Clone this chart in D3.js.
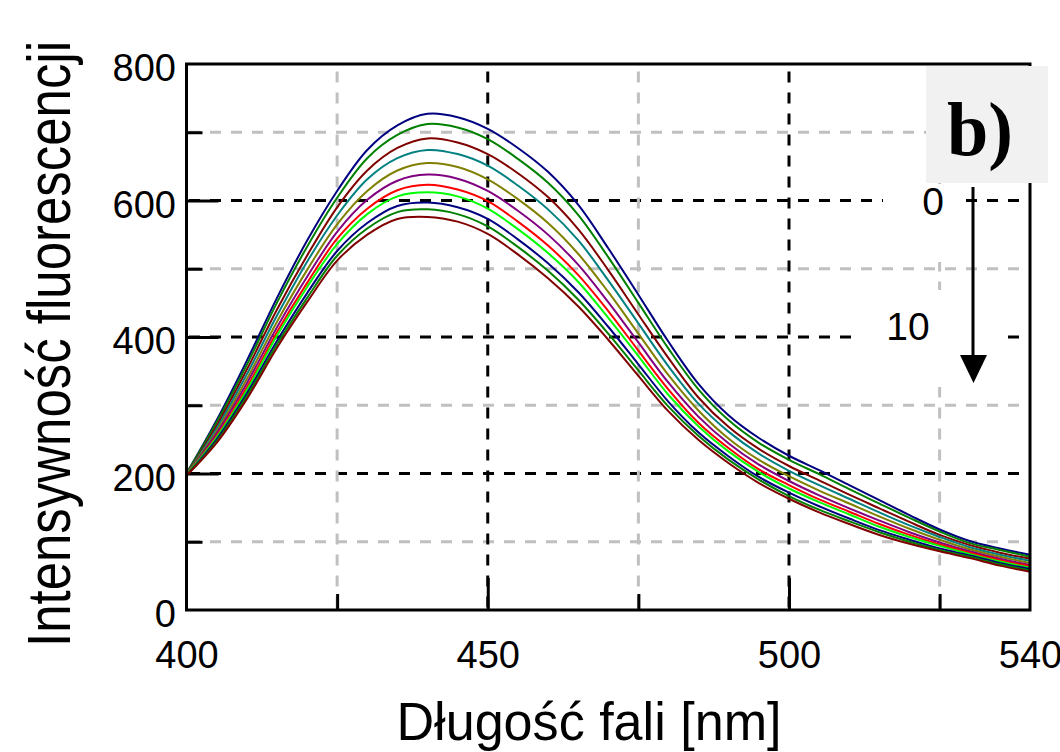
<!DOCTYPE html>
<html><head><meta charset="utf-8">
<script src="https://cdn.jsdelivr.net/npm/d3@7"></script>
<style>
body{margin:0;background:#fff}
svg{display:block}
text{font-family:"Liberation Sans",Arial,sans-serif;fill:#000}
</style>
</head><body>
<svg id="c" width="1060" height="752"></svg>
<script>
// ---- data ----
const wavelengths=[400,405,410,415,420,425,430,435,440,445,450,455,460,465,470,475,480,485,490,495,500,505,510,515,520,525,530,535,540];
const s0=[200,278,365,457,541,614,674,710,727,722,705,677,642,594,530,462,393,331,285,252,226,205,183,161,139,118,101,90,81];
const s1=[200,275,359,450,532,604,662,696,712,707,690,661,626,579,517,450,383,323,278,245,220,199,177,156,135,115,98,88,78];
const s2=[199,270,352,440,519,590,644,677,691,685,668,640,605,558,498,433,369,311,268,236,211,190,169,149,129,110,95,84,75];
const s3=[199,266,345,431,510,578,631,662,674,668,651,622,587,542,483,420,357,302,261,229,204,183,163,143,124,107,92,81,72];
const s4=[199,262,338,422,498,565,614,644,655,649,631,602,567,522,466,405,344,292,251,220,196,175,156,137,119,103,89,78,69];
const s5=[198,259,332,414,488,554,601,629,638,632,614,585,550,506,451,392,333,283,244,213,189,168,149,131,114,99,86,75,66];
const s6=[198,255,326,407,479,544,588,615,623,616,599,569,534,491,438,380,323,274,237,206,183,162,144,126,110,96,84,73,64];
const s7=[198,253,322,402,473,536,580,606,612,606,588,558,523,481,428,372,315,269,232,202,178,158,140,122,107,94,82,71,62];
const s8=[197,250,317,394,464,526,567,592,597,590,573,543,508,466,415,360,305,260,225,195,172,152,134,117,103,90,80,69,60];
const s9=[197,247,313,389,457,519,559,583,587,580,562,532,497,455,405,351,298,255,220,191,167,147,130,114,100,88,78,67,58];
const s10=[197,245,309,384,451,512,550,573,576,569,551,521,486,445,396,343,291,249,215,186,163,143,126,110,97,86,76,65,56];
const seriesValues=[s0,s1,s2,s3,s4,s5,s6,s7,s8,s9,s10];
const seriesColors=["#000080","#008000","#800000","#008080","#808000","#800080","#ff0000","#00ff00","#000080","#008000","#800000"];
const xTickLabels=[400,450,500,540];
const yTickLabels=[0,200,400,600,800];
const xMajorGrid=[450,500];
const yMajorGrid=[200,400,600];
const xMinorGrid=[425,475,525];
const yMinorGrid=[100,300,500,700];
const xTitle="Długość fali [nm]";
const yTitle="Intensywność fluorescencji";
const panelLabel="b)";
const arrowFrom="0", arrowTo="10";

// ---- drawing ----
const svg=d3.select("#c");
const x=d3.scaleLinear().domain([400,540]).range([186.5,1030]);
const y=d3.scaleLinear().domain([0,800]).range([610,64]);

const grid=svg.append("g");
grid.selectAll("line.hmin").data(yMinorGrid).join("line")
  .attr("x1",x(400)).attr("x2",x(540)).attr("y1",d=>y(d)).attr("y2",d=>y(d))
  .attr("stroke","#c0c0c0").attr("stroke-width",3).attr("stroke-dasharray","11,10").attr("stroke-dashoffset",18.5);
grid.selectAll("line.hmaj").data(yMajorGrid).join("line")
  .attr("x1",x(400)).attr("x2",x(540)).attr("y1",d=>y(d)).attr("y2",d=>y(d))
  .attr("stroke","#000").attr("stroke-width",3).attr("stroke-dasharray","11,10").attr("stroke-dashoffset",18.5);
grid.selectAll("line.vmin").data(xMinorGrid).join("line")
  .attr("x1",d=>x(d)).attr("x2",d=>x(d)).attr("y1",y(0)).attr("y2",y(800))
  .attr("stroke","#c0c0c0").attr("stroke-width",3).attr("stroke-dasharray","11,10").attr("stroke-dashoffset",18.5);
grid.selectAll("line.vmaj").data(xMajorGrid).join("line")
  .attr("x1",d=>x(d)).attr("x2",d=>x(d)).attr("y1",y(0)).attr("y2",y(800))
  .attr("stroke","#000").attr("stroke-width",3).attr("stroke-dasharray","11,10").attr("stroke-dashoffset",18.5);

function styleTicks(g){g.select(".domain").remove();g.selectAll(".tick line").attr("stroke","#000").attr("stroke-width",3);g.selectAll("text").remove();}
svg.append("g").attr("transform",`translate(${x(400)},0)`).call(d3.axisLeft(y).tickValues(yMajorGrid).tickSize(-32)).call(styleTicks);
svg.append("g").attr("transform",`translate(${x(400)},0)`).call(d3.axisLeft(y).tickValues(yMinorGrid).tickSize(-16)).call(styleTicks);
svg.append("g").attr("transform",`translate(0,${y(0)})`).call(d3.axisBottom(x).tickValues(xMajorGrid).tickSize(-32)).call(styleTicks);
svg.append("g").attr("transform",`translate(0,${y(0)})`).call(d3.axisBottom(x).tickValues(xMinorGrid).tickSize(-16)).call(styleTicks);

const line=d3.line().x((d,i)=>x(wavelengths[i])).y(d=>y(d)).curve(d3.curveCatmullRom.alpha(0.5));
svg.append("g").selectAll("path").data(seriesValues).join("path")
  .attr("d",d=>line(d)).attr("fill","none").attr("stroke",(d,i)=>seriesColors[i]).attr("stroke-width",2);

svg.append("rect").attr("x",x(400)).attr("y",y(800)).attr("width",x(540)-x(400)).attr("height",y(0)-y(800))
  .attr("fill","none").attr("stroke","#000").attr("stroke-width",3);

const xLab=svg.append("g").attr("transform",`translate(0,${y(0)})`).call(d3.axisBottom(x).tickValues(xTickLabels).tickSize(0).tickPadding(30));
xLab.select(".domain").remove();
xLab.selectAll("text").attr("font-size",38).attr("dy",null).attr("y",58).style("font-family","'Liberation Sans',Arial,sans-serif");
const yLab=svg.append("g").attr("transform",`translate(176,0)`).call(d3.axisLeft(y).tickValues(yTickLabels).tickSize(0).tickPadding(0));
yLab.select(".domain").remove();
yLab.selectAll("text").attr("font-size",38).attr("dy",null).attr("y",16.5).attr("x",0).style("font-family","'Liberation Sans',Arial,sans-serif");

svg.append("text").attr("x",589).attr("y",740).attr("text-anchor","middle").attr("font-size",54)
  .attr("textLength",385).attr("lengthAdjust","spacingAndGlyphs").text(xTitle);
svg.append("text").attr("transform","translate(70,344) rotate(-90)").attr("text-anchor","middle").attr("font-size",62)
  .attr("textLength",606).attr("lengthAdjust","spacingAndGlyphs").text(yTitle);

svg.append("rect").attr("x",883).attr("y",184).attr("width",74).attr("height",78).attr("fill","#fff");
svg.append("rect").attr("x",855).attr("y",290).attr("width",152).attr("height",97).attr("fill","#fff");

svg.append("rect").attr("x",926).attr("y",66).attr("width",122).attr("height",117).attr("fill","#f1f1f1");
svg.append("text").attr("x",947).attr("y",155).attr("font-size",76).attr("font-weight","bold")
  .style("font-family","'Liberation Serif','Times New Roman',serif").attr("textLength",66).attr("lengthAdjust","spacingAndGlyphs").text(panelLabel);

svg.append("line").attr("x1",973).attr("x2",973).attr("y1",187).attr("y2",360).attr("stroke","#000").attr("stroke-width",3);
svg.append("path").attr("d","M960,355 L987,355 L973.5,383 Z").attr("fill","#000");
svg.append("text").attr("x",933).attr("y",215).attr("text-anchor","middle").attr("font-size",39).text(arrowFrom);
svg.append("text").attr("x",908).attr("y",340).attr("text-anchor","middle").attr("font-size",39).text(arrowTo);
</script>
</body></html>
